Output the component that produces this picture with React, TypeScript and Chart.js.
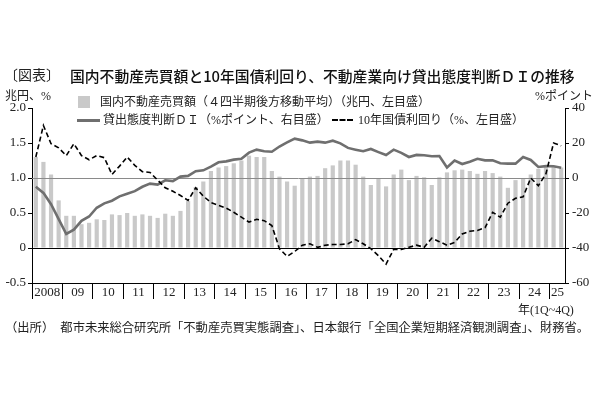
import { useEffect, useRef } from "react"
import { Chart, registerables, type ChartConfiguration, type Plugin } from "chart.js"

Chart.register(...registerables)

// year labels on the x axis (2025 has 1Q-2Q only)
const yearLabels = ["2008", "09", "10", "11", "12", "13", "14", "15", "16", "17", "18", "19", "20", "21", "22", "23", "24", "25"]
const quarters = ["1Q", "2Q", "3Q", "4Q"]

// 国内不動産売買額（4四半期後方移動平均、兆円）
const salesVolume = [
  1.30, 1.23, 1.05, 0.68,
  0.46, 0.46, 0.34, 0.36,
  0.41, 0.40, 0.48, 0.47,
  0.50, 0.46, 0.48, 0.46,
  0.43, 0.49, 0.46, 0.53,
  0.67, 0.87, 0.95, 1.10,
  1.15, 1.17, 1.21, 1.25,
  1.32, 1.30, 1.30, 1.10,
  1.02, 0.95, 0.89, 1.00,
  1.02, 1.03, 1.14, 1.18,
  1.25, 1.25, 1.19, 1.02,
  0.90, 1.00, 0.88, 1.05,
  1.12, 0.97, 1.03, 1.01,
  0.90, 1.01, 1.08, 1.11,
  1.12, 1.10, 1.06, 1.10,
  1.07, 1.02, 0.86, 0.97,
  1.00, 1.05, 1.13, 1.16,
  1.17, 1.15,
]

// 貸出態度判断DI（%ポイント）
const lendingDI = [
  -5, -8.5, -15, -23.5,
  -32, -29.5, -24.5, -22,
  -17, -14.5, -13, -10.5,
  -9, -7.5, -5, -3.2,
  -3.8, -1.3, -1.8, 0.8,
  1.2, 3.9, 4.4, 6.5,
  9, 9.5, 10.5, 11,
  14.5, 16.2, 15.3, 15,
  18, 20.3, 22.5, 21.5,
  20.2, 20.8, 20.2, 21.3,
  19.8, 17.2, 16.2, 15.3,
  16.6, 14.8, 13.1, 16.2,
  14.4, 12, 13.2, 13,
  12.4, 12.5, 6, 10,
  8, 9.3, 11, 10.1,
  10.1, 8.4, 8.2, 8.2,
  12, 10.3, 6.3, 6.8,
  6.7, 5.9,
]

// 10年国債利回り（%）
const jgbYield = [
  1.30, 1.75, 1.49, 1.43,
  1.32, 1.49, 1.32, 1.26,
  1.32, 1.29, 1.05, 1.17,
  1.30, 1.18, 1.09, 1.08,
  0.97, 0.86, 0.81, 0.75,
  0.68, 0.86, 0.74, 0.65,
  0.61, 0.57, 0.51, 0.44,
  0.37, 0.41, 0.39, 0.32,
  -0.01, -0.12, -0.05, 0.04,
  0.06, 0.01, 0.04, 0.05,
  0.05, 0.06, 0.12, 0.06,
  -0.01, -0.11, -0.23, -0.02,
  -0.02, 0.01, 0.04, 0.01,
  0.14, 0.09, 0.04, 0.08,
  0.20, 0.24, 0.25, 0.29,
  0.51, 0.44, 0.64, 0.71,
  0.73, 1.00, 0.89, 1.06,
  1.50, 1.46,
]

const categories = yearLabels
  .flatMap((y) => quarters.map((q) => `${y} ${q}`))
  .slice(0, salesVolume.length)

const SERIF = '"Liberation Serif", "Noto Sans CJK JP", serif'
const TEXT = "#222"

// draws the 1.0 and 0 reference lines right after the bars
const refLines: Plugin = {
  id: "refLines",
  afterDatasetDraw(chart, args) {
    if (args.index !== 0) return
    const { ctx, chartArea, scales } = chart
    const draw = (v: number, color: string) => {
      const y = Math.round(scales.y.getPixelForValue(v)) + 0.5
      ctx.strokeStyle = color
      ctx.beginPath()
      ctx.moveTo(chartArea.left, y)
      ctx.lineTo(chartArea.right, y)
      ctx.stroke()
    }
    ctx.save()
    ctx.lineWidth = 1
    draw(1, "#8a8a8a")
    draw(0, "#000")
    ctx.restore()
  },
}

function Label({ x, y, size, children, style }: any) {
  return (
    <div
      style={{
        position: "absolute",
        left: x,
        top: y - size / 2,
        fontSize: size,
        lineHeight: `${size}px`,
        whiteSpace: "nowrap",
        color: TEXT,
        fontFamily: SERIF,
        ...style,
      }}
    >
      {children}
    </div>
  )
}

export default function App() {
  const chartRef = useRef<HTMLCanvasElement>(null)
  const chartInstance = useRef<Chart | null>(null)

  useEffect(() => {
    if (!chartRef.current) return
    const ctx = chartRef.current.getContext("2d")
    if (!ctx) return

    if (chartInstance.current) {
      chartInstance.current.destroy()
    }

    const n = categories.length
    const tickFont = { family: SERIF, size: 13 }

    const config: ChartConfiguration = {
      type: "bar",
      data: {
        labels: categories,
        datasets: [
          {
            type: "bar",
            label: "国内不動産売買額",
            data: salesVolume,
            backgroundColor: "#c9c9c9",
            barPercentage: 0.55,
            categoryPercentage: 1,
            yAxisID: "y",
            order: 3,
          },
          {
            type: "line",
            label: "貸出態度判断DI",
            data: lendingDI,
            borderColor: "#6f6f6f",
            borderWidth: 2.6,
            pointRadius: 0,
            tension: 0,
            yAxisID: "y2",
            order: 2,
          },
          {
            type: "line",
            label: "10年国債利回り",
            data: jgbYield,
            borderColor: "#000",
            borderWidth: 1.6,
            borderDash: [5, 3],
            pointRadius: 0,
            tension: 0,
            yAxisID: "y",
            order: 1,
          },
        ] as any,
      },
      options: {
        responsive: true,
        maintainAspectRatio: false,
        animation: false,
        layout: { padding: { top: 108, right: 5, bottom: 97, left: 0 } },
        plugins: {
          legend: { display: false },
          tooltip: { enabled: false },
          title: { display: false },
        },
        scales: {
          x: {
            type: "category",
            offset: true,
            grid: {
              offset: true,
              drawOnChartArea: false,
              drawTicks: true,
              tickLength: 16,
              tickColor: (c: any) => (typeof c.index === "number" && c.index % 4 === 0 ? "#000" : "transparent"),
            },
            border: { color: "#000" },
            ticks: {
              autoSkip: false,
              maxRotation: 0,
              minRotation: 0,
              padding: -14,
              labelOffset: 3.8,
              color: TEXT,
              font: tickFont,
              callback: (_v: any, i: number) => {
                const yi = Math.floor(i / 4)
                const count = Math.min(4, n - yi * 4)
                return i === yi * 4 + Math.floor((count - 1) / 2) ? yearLabels[yi] : ""
              },
            },
            afterFit: (s: any) => {
              s.height = 20
            },
          },
          y: {
            position: "left",
            min: -0.5,
            max: 2.0,
            grid: { drawOnChartArea: false, tickLength: 4, tickColor: "#000" },
            border: { color: "#000" },
            ticks: {
              stepSize: 0.5,
              padding: 2,
              color: TEXT,
              font: tickFont,
              callback: (v: any) => (Number(v) === 0 ? "0" : Number(v).toFixed(1)),
            },
            afterFit: (s: any) => {
              s.width = 32
            },
          },
          y2: {
            position: "right",
            min: -60,
            max: 40,
            grid: { drawOnChartArea: false, tickLength: 4, tickColor: "#000" },
            border: { color: "#000" },
            ticks: {
              stepSize: 10,
              padding: 3,
              color: TEXT,
              font: tickFont,
            },
            afterFit: (s: any) => {
              s.width = 30
            },
          },
        },
      },
      plugins: [refLines],
    }

    chartInstance.current = new Chart(ctx, config)

    return () => {
      if (chartInstance.current) {
        chartInstance.current.destroy()
        chartInstance.current = null
      }
    }
  }, [])

  return (
    <div style={{ position: "absolute", left: 0, top: 0, width: 600, height: 400, background: "#fff", overflow: "hidden" }}>
      <div style={{ position: "absolute", left: 0, top: 0, width: 600, height: 400 }}>
        <canvas ref={chartRef}></canvas>
      </div>

      {/* title */}
      <Label x={4} y={76} size={14}>〔図表〕</Label>
      <Label x={70} y={76} size={14.8} style={{ fontFamily: '"Noto Sans CJK JP", sans-serif', fontWeight: 500, color: "#111" }}>
        国内不動産売買額と10年国債利回り、不動産業向け貸出態度判断ＤＩの推移
      </Label>

      {/* axis units */}
      <Label x={5} y={96} size={12}>兆円、%</Label>
      <Label x={535} y={96} size={12}>%ポイント</Label>

      {/* legend */}
      <div style={{ position: "absolute", left: 78, top: 96, width: 12, height: 12, background: "#c9c9c9" }} />
      <Label x={100} y={102} size={12}>国内不動産売買額（４四半期後方移動平均）（兆円、左目盛）</Label>
      <div style={{ position: "absolute", left: 77, top: 119, width: 23, height: 3, background: "#6f6f6f" }} />
      <Label x={103} y={120} size={12}>貸出態度判断ＤＩ（%ポイント、右目盛）</Label>
      <div style={{ position: "absolute", left: 332, top: 119, width: 21, height: 0, borderTop: "2px dashed #000" }} />
      <Label x={358} y={120} size={12}>10年国債利回り（%、左目盛）</Label>

      {/* x unit and source */}
      <Label x={518} y={310} size={12}>年(1Q~4Q)</Label>
      <Label x={5} y={328} size={12.3}>
        （出所）　都市未来総合研究所「不動産売買実態調査」、日本銀行「全国企業短期経済観測調査」、財務省。
      </Label>
    </div>
  )
}
